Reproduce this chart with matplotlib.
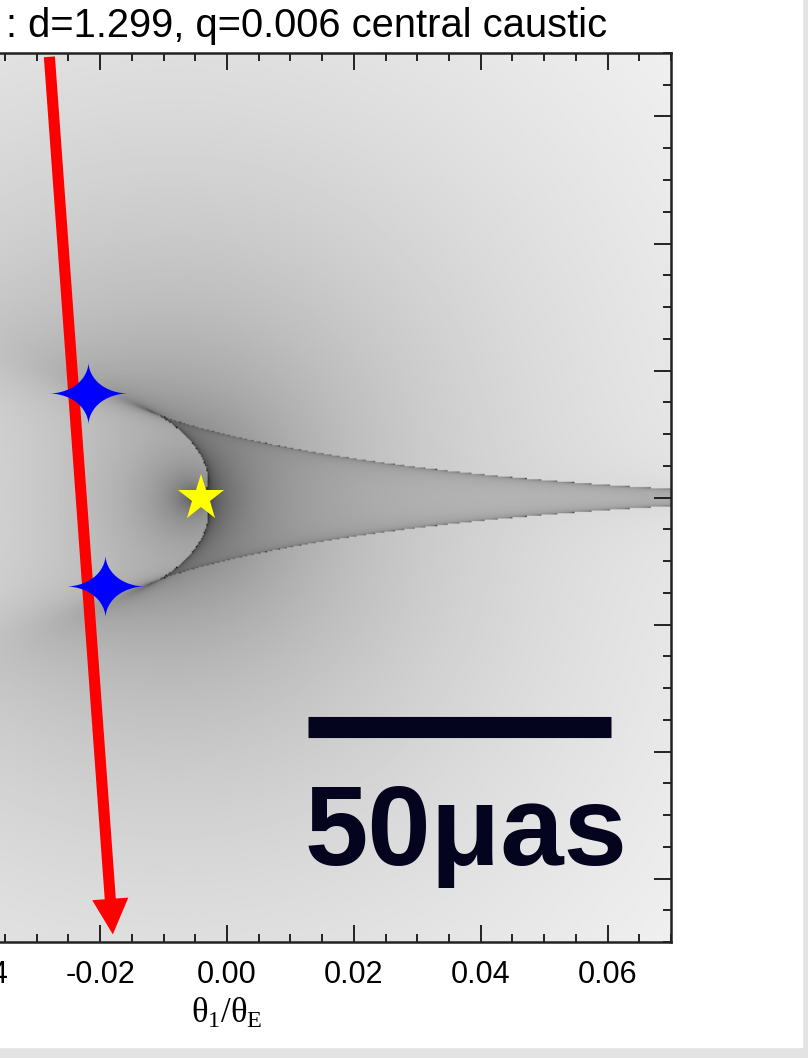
import numpy as np
import matplotlib
matplotlib.use('Agg')
import matplotlib.pyplot as plt
from matplotlib.patches import Rectangle, FancyArrow
from matplotlib.path import Path
from matplotlib.ticker import MultipleLocator, FormatStrFormatter

plt.rcParams['font.family'] = ['Liberation Sans', 'DejaVu Sans']
plt.rcParams['axes.unicode_minus'] = False
plt.rcParams['mathtext.fontset'] = 'custom'
plt.rcParams['mathtext.rm'] = 'Liberation Serif'
plt.rcParams['mathtext.it'] = 'Liberation Serif'

# lens parameters (from the title) and where the host sits on the map
sep_d = 1.299
mass_q = 0.006
host_x, host_y = -0.0060, 0.0
map_half = 0.07
map_left = -0.038          # only this part of the axes is on the page
n_cols, n_rows = 520, 680

# source trajectory and caustic crossings
traj_start = (-0.0280, 0.0694)
traj_end = (-0.0180, -0.0688)
cross_x = [-0.0219, -0.0192]
cross_y = [0.0165, -0.0139]
lens_x = [-0.0041]
lens_y = [0.0]

scalebar_x = [0.0127, 0.0605]
scalebar_y = -0.0361
scalebar_label = '50μas'

title = ': d=1.299, q=0.006 central caustic'


def pmul(a, b):
    """multiply batches of polynomials (rows, descending coefficients)"""
    out = np.zeros((a.shape[0], a.shape[1] + b.shape[1] - 1), complex)
    for i in range(a.shape[1]):
        out[:, i:i + b.shape[1]] += a[:, i:i + 1] * b
    return out


def binary_mag(zeta, d, q):
    """point-source magnification of a binary lens, host at 0 and planet at +d"""
    m1 = 1.0 / (1.0 + q)
    m2 = q / (1.0 + q)
    z1, z2 = 0.0, d
    zc = np.conj(zeta)
    one = np.ones(zeta.size, complex)
    D = np.stack([one, -(z1 + z2) * one, z1 * z2 * one], axis=1)
    N = np.stack([zc, -zc * (z1 + z2) + m1 + m2, zc * z1 * z2 - m1 * z2 - m2 * z1], axis=1)
    P1 = N - z1 * D
    P2 = N - z2 * D
    lin = np.stack([one, -zeta], axis=1)
    poly = pmul(pmul(lin, P1), P2)
    poly[:, 1:] -= m1 * pmul(D, P2) + m2 * pmul(D, P1)

    comp = np.zeros((zeta.size, 5, 5), complex)
    comp[:, 0, :] = -poly[:, 1:] / poly[:, :1]
    comp[:, np.arange(1, 5), np.arange(4)] = 1.0
    roots = np.linalg.eigvals(comp)

    rc = np.conj(roots)
    back = roots - m1 / (rc - z1) - m2 / (rc - z2)
    res = np.abs(back - zeta[:, None])
    rank = np.argsort(np.argsort(res, axis=1), axis=1)
    good = (rank < 3) | (res < 1e-6)
    det = 1.0 - np.abs(m1 / (rc - z1) ** 2 + m2 / (rc - z2) ** 2) ** 2
    return np.where(good, 1.0 / np.abs(det), 0.0).sum(axis=1)


xs = np.linspace(map_left, map_half, n_cols)
ys = np.linspace(-map_half, map_half, n_rows)
X, Y = np.meshgrid(xs, ys)
zeta = ((X - host_x) + 1j * (Y - host_y)).ravel()
mag = binary_mag(zeta, sep_d, mass_q).reshape(X.shape)

fig = plt.figure(figsize=(8.08, 10.58), dpi=100, facecolor='#e3e3e3')
fig.add_artist(Rectangle((0, 1 - 1047 / 1058), 802 / 808, 1047 / 1058,
                         transform=fig.transFigure, color='white', zorder=0))

ax = fig.add_axes([-217 / 808, 116 / 1058, 888 / 808, 889 / 1058])
ax.imshow(np.log10(mag), origin='lower', cmap='gray_r', vmin=0.8, vmax=3.6,
          extent=[map_left, map_half, -map_half, map_half],
          interpolation='bilinear', aspect='auto', zorder=1)

# trajectory arrow
ax.add_patch(FancyArrow(traj_start[0], traj_start[1],
                        traj_end[0] - traj_start[0], traj_end[1] - traj_start[1],
                        width=0.00175, head_width=0.0057, head_length=0.0056,
                        length_includes_head=True, color='red', lw=0, zorder=3))

# four-pointed star marker for the crossings
t = np.linspace(0, 2 * np.pi, 240)
ct, st = np.cos(t), np.sin(t)
star4 = Path(np.column_stack([np.sign(ct) * np.abs(ct) ** 3.5,
                              0.8 * np.sign(st) * np.abs(st) ** 3.5]))
ax.plot(cross_x, cross_y, linestyle='none', marker=star4, markersize=56,
        color='#0000ff', markeredgewidth=0, zorder=4)
ax.plot(lens_x, lens_y, linestyle='none', marker='*', markersize=35,
        color='#ffff00', markeredgewidth=0, zorder=5)

# scale bar
bar_color = '#04041e'
ax.plot(scalebar_x, [scalebar_y, scalebar_y], color=bar_color, lw=15.2,
        solid_capstyle='butt', zorder=4)
ax.text(0.0377, -0.0578, scalebar_label, fontsize=82, fontweight='bold',
        color=bar_color, ha='center', va='baseline', zorder=4)

ax.set_xlim(-map_half, map_half)
ax.set_ylim(-map_half, map_half)
for axis in (ax.xaxis, ax.yaxis):
    axis.set_major_locator(MultipleLocator(0.02))
    axis.set_minor_locator(MultipleLocator(0.005))
    axis.set_major_formatter(FormatStrFormatter('%.2f'))
ax.tick_params(which='both', direction='in', top=True, right=True,
               width=1.4, color='#222222', labelsize=22, pad=13)
ax.tick_params(which='major', length=12.5)
ax.tick_params(which='minor', length=6)
for sp in ax.spines.values():
    sp.set_linewidth(1.8)
    sp.set_color('#222222')
ax.set_xlabel(r'$\theta_1/\theta_E$', fontsize=25, labelpad=4)

fig.text(6 / 808, 1 - 37 / 1058, title, fontsize=28.7, ha='left', va='baseline')

fig.savefig('out.png', dpi=100, facecolor=fig.get_facecolor())
